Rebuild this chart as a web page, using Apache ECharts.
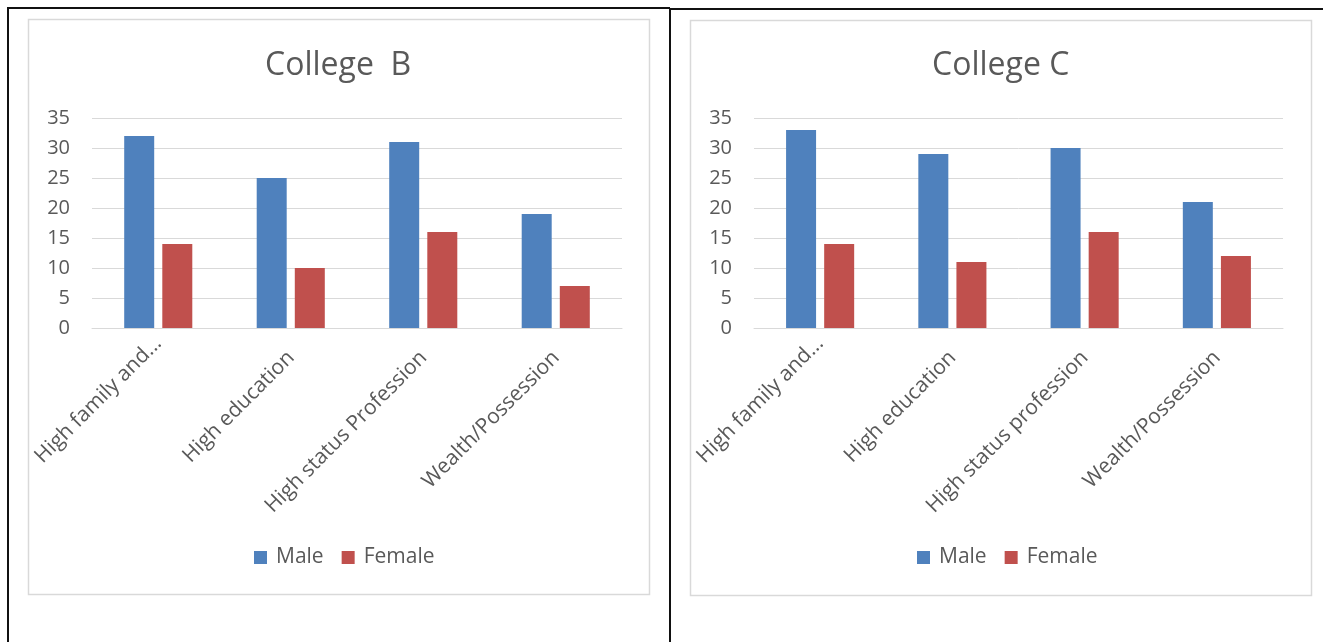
<!DOCTYPE html>
<html>
<head>
<meta charset="utf-8">
<script src="https://cdn.jsdelivr.net/npm/echarts@6/dist/echarts.min.js"></script>
<style>
  html, body { margin: 0; padding: 0; background: #fff; }
  #main { width: 1323px; height: 642px; }
</style>
</head>
<body>
<div id="main"></div>
<script>
// data
var seriesNames = ['Male', 'Female'];
var categoriesB = ['High family and...', 'High education', 'High status Profession', 'Wealth/Possession'];
var categoriesC = ['High family and...', 'High education', 'High status profession', 'Wealth/Possession'];
var maleB = [32, 25, 31, 19];
var femaleB = [14, 10, 16, 7];
var maleC = [33, 29, 30, 21];
var femaleC = [14, 11, 16, 12];
var yTicks = { min: 0, max: 35, interval: 5 };

var textColor = '#595959';
var gridColor = '#d9d9d9';
var font = 'Open Sans';

var chart = echarts.init(document.getElementById('main'));

function xAxis(idx, cats) {
    // the truncated first label sits a bit further right in Excel
    var data = cats.map(function (c, i) {
        return i === 0 ? { value: c, textStyle: { padding: [6, 0, 0, 0] } } : c;
    });
    return {
        type: 'category',
        gridIndex: idx,
        data: data,
        axisLine: { lineStyle: { color: gridColor, width: 1 } },
        axisTick: { show: false },
        axisLabel: { rotate: 45, margin: 12, verticalAlign: 'top', padding: [0, 10, 0, 0],
                     color: textColor, fontFamily: font, fontSize: 21, interval: 0 }
    };
}

function yAxis(idx) {
    return {
        type: 'value',
        gridIndex: idx,
        min: yTicks.min,
        max: yTicks.max,
        interval: yTicks.interval,
        axisLine: { show: false },
        axisTick: { show: false },
        axisLabel: { margin: 22, color: textColor, fontFamily: font, fontSize: 20 },
        splitLine: { lineStyle: { color: gridColor, width: 1 } }
    };
}

function bar(name, data, idx, color) {
    return {
        name: name,
        type: 'bar',
        xAxisIndex: idx,
        yAxisIndex: idx,
        data: data,
        barWidth: 30,
        barGap: '27%',
        itemStyle: { color: color },
        emphasis: { disabled: true }
    };
}

var blue = '#4f81bd', red = '#c0504d';
var legendText = { color: textColor, fontFamily: font, fontSize: 21, padding: [0, 0, 0, 4] };

var option = {
    animation: false,
    backgroundColor: '#fff',
    title: [
        { text: 'College  B', left: 265, top: 50, padding: 0,
          textStyle: { color: textColor, fontFamily: font, fontSize: 32, fontWeight: 'normal' } },
        { text: 'College C', left: 932, top: 50, padding: 0,
          textStyle: { color: textColor, fontFamily: font, fontSize: 32, fontWeight: 'normal' } }
    ],
    legend: [
        { data: seriesNames, left: 254, top: 547, padding: 0, itemWidth: 13, itemHeight: 13, itemGap: 18,
          icon: 'rect', textStyle: legendText },
        { data: ['Male ', 'Female '], left: 917, top: 547, padding: 0, itemWidth: 13, itemHeight: 13, itemGap: 18,
          icon: 'rect', textStyle: legendText,
          formatter: function (n) { return n.trim(); } }
    ],
    grid: [
        { left: 92, top: 118, width: 530, height: 210 },
        { left: 754, top: 118, width: 529, height: 210 }
    ],
    xAxis: [xAxis(0, categoriesB), xAxis(1, categoriesC)],
    yAxis: [yAxis(0), yAxis(1)],
    series: [
        bar('Male', maleB, 0, blue),
        bar('Female', femaleB, 0, red),
        bar('Male ', maleC, 1, blue),
        bar('Female ', femaleC, 1, red)
    ],
    graphic: [
        // light chart-area frames
        { type: 'rect', shape: { x: 28.5, y: 19.5, width: 621, height: 575 }, silent: true, z: -1,
          style: { fill: 'none', stroke: gridColor, lineWidth: 1.5 } },
        { type: 'rect', shape: { x: 690.5, y: 20.5, width: 621, height: 575 }, silent: true, z: -1,
          style: { fill: 'none', stroke: gridColor, lineWidth: 1.5 } },
        // black page/table lines
        { type: 'polyline', shape: { points: [[8, 642], [8, 8], [670, 8]] }, silent: true,
          style: { fill: 'none', stroke: '#111', lineWidth: 2 } },
        { type: 'polyline', shape: { points: [[670, 642], [670, 9], [1323, 9]] }, silent: true,
          style: { fill: 'none', stroke: '#111', lineWidth: 2 } }
    ]
};

chart.setOption(option);
</script>
</body>
</html>
